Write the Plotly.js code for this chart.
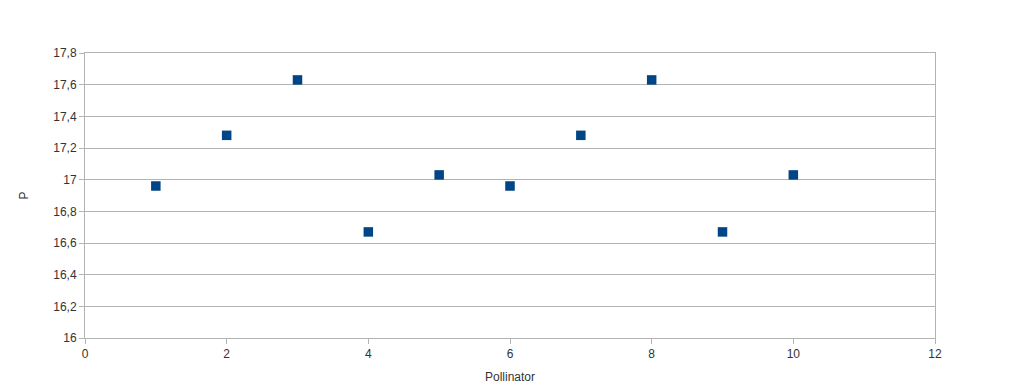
<!DOCTYPE html>
<html>
<head>
<meta charset="utf-8">
<script src="https://cdn.plot.ly/plotly-3.0.1.min.js"></script>
<style>html,body{margin:0;padding:0;background:#fff;}#chart{width:1023px;height:391px;}</style>
</head>
<body>
<div id="chart"></div>
<script>
const pollinator = [1, 2, 3, 4, 5, 6, 7, 8, 9, 10];
const pValues = [16.96, 17.28, 17.63, 16.67, 17.03, 16.96, 17.28, 17.63, 16.67, 17.03];

const axisColor = '#b3b3b3';
const fontSpec = {family: 'Liberation Sans, Arial, sans-serif', size: 12, color: '#333333'};

Plotly.newPlot('chart', [{
  x: pollinator,
  y: pValues,
  type: 'scatter',
  mode: 'markers',
  marker: {symbol: 'square', size: 9.5, color: '#004586'},
  hoverinfo: 'x+y'
}], {
  width: 1023,
  height: 391,
  margin: {l: 85, r: 88, t: 53, b: 53},
  paper_bgcolor: '#ffffff',
  plot_bgcolor: '#ffffff',
  separators: ',.',
  showlegend: false,
  font: fontSpec,
  xaxis: {
    range: [0, 12],
    dtick: 2,
    tick0: 0,
    ticks: 'outside',
    ticklen: 5,
    tickcolor: axisColor,
    showgrid: false,
    showline: true,
    linecolor: axisColor,
    mirror: true,
    zeroline: false,
    tickfont: fontSpec,
    title: {text: 'Pollinator', font: fontSpec, standoff: 12}
  },
  yaxis: {
    range: [16, 17.8],
    dtick: 0.2,
    tick0: 16,
    ticks: 'outside',
    ticklen: 5,
    tickcolor: axisColor,
    showgrid: true,
    gridcolor: axisColor,
    showline: true,
    linecolor: axisColor,
    mirror: true,
    zeroline: false,
    tickfont: fontSpec,
    title: {text: 'P', font: fontSpec, standoff: 22}
  }
}, {displayModeBar: false, staticPlot: true});
</script>
</body>
</html>
